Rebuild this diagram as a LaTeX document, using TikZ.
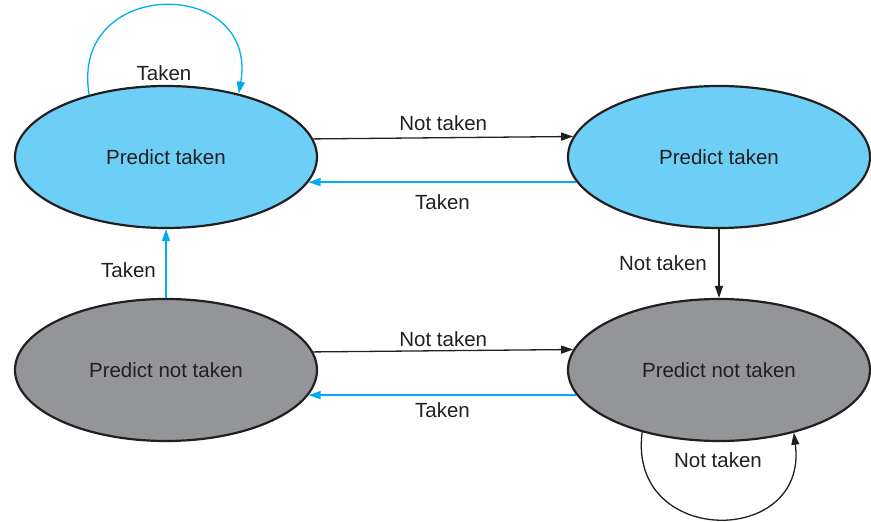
\documentclass[tikz,border=0pt]{standalone}
\usepackage{fontspec}
\setmainfont{Liberation Sans}
\usetikzlibrary{shapes.geometric,arrows.meta}
\definecolor{bpText}{HTML}{231F20}
\definecolor{bpTaken}{HTML}{6DCFF6}
\definecolor{bpNot}{HTML}{939598}
\definecolor{bpBlue}{HTML}{00AEEF}
\tikzset{
  bp/.style={font=\fontsize{20.5}{24}\selectfont, text=bpText, >={Triangle[length=12pt, width=8pt]}},
  bstate/.style={ellipse, draw=bpText, line width=2.2pt, minimum width=302pt, minimum height=142pt, inner sep=0pt},
  ptk/.style={bstate, fill=bpTaken},
  pnt/.style={bstate, fill=bpNot},
  nt/.style={->, draw=bpText, line width=1.3pt},
  tk/.style={->, draw=bpBlue, line width=1.3pt},
  lbl/.style={inner sep=1.5pt, text=bpText},
}

\begin{document}
\begin{tikzpicture}[bp, x=1pt, y=1pt]
\useasboundingbox (0,0) rectangle (871,522);
% top row: predict taken
\node[ptk] (tl) at (166,365) {Predict taken};
\node[ptk] (tr) at (719,365) {Predict taken};
% bottom row: predict not taken
\node[pnt] (bl) at (166,152) {Predict not taken};
\node[pnt] (br) at (719,152) {Predict not taken};

\draw[tk] (tl.141) .. controls +(-20,118) and +(20,118) .. node[lbl, yshift=-67pt] {Taken} (tl.41);
\draw[nt] (tl.7.4) -- node[lbl, above=5pt] {Not taken} (tr.172.6);
\draw[tk] (tr.190) -- node[lbl, below=10pt] {Taken} (tl.350);
\draw[nt] (tr.south) -- node[lbl, left=10pt] {Not taken} (br.north);
\draw[tk] (bl.north) -- node[lbl, left=8pt, pos=.4] {Taken} (tl.south);
\draw[nt] (bl.7.4) -- node[lbl, above=2pt] {Not taken} (br.172.6);
\draw[tk] (br.190) -- node[lbl, below=5pt] {Taken} (bl.350);
\draw[nt] (br.219) .. controls +(-15,-115) and +(15,-115) .. node[lbl, yshift=59pt] {Not taken} (br.320);
\end{tikzpicture}
\end{document}
